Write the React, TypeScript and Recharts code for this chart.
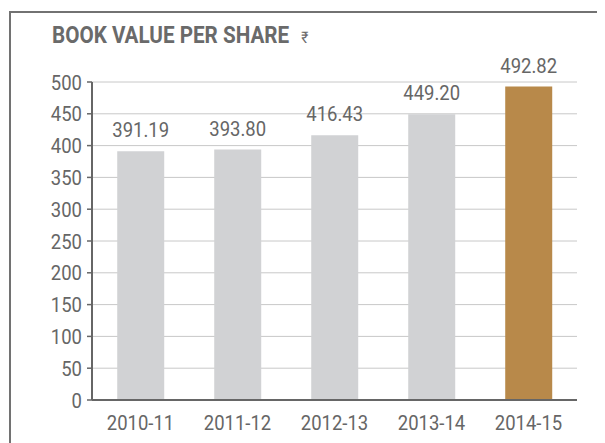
import React from "react";
import { BarChart, Bar, XAxis, YAxis, CartesianGrid, Cell, LabelList } from "recharts";

const years = ["2010-11", "2011-12", "2012-13", "2013-14", "2014-15"];
const bookValues = [391.19, 393.8, 416.43, 449.2, 492.82];
const valueLabels = ["391.19", "393.80", "416.43", "449.20", "492.82"];
const yTicks = [0, 50, 100, 150, 200, 250, 300, 350, 400, 450, 500];
const barColors = ["#d1d2d4", "#d1d2d4", "#d1d2d4", "#d1d2d4", "#b8894a"];

const data = years.map((y, i) => ({ year: y, value: bookValues[i], label: valueLabels[i] }));

const FONT = "Roboto, 'Liberation Sans', sans-serif";
const TEXT = "#666666";
const SX = 0.88;

const ValueLabel = (props: any) => {
  const { x, y, width, value } = props;
  return (
    <g transform={`translate(${x + width / 2},${y - 14}) scale(${SX},1)`}>
      <text x={0} y={0} textAnchor="middle" fill={TEXT} fontSize={21} fontFamily={FONT}>
        {value}
      </text>
    </g>
  );
};

const XTick = (props: any) => {
  const { x, y, payload } = props;
  return (
    <g transform={`translate(${x},${y + 28}) scale(${SX},1)`}>
      <text x={0} y={0} textAnchor="middle" fill={TEXT} fontSize={21} fontFamily={FONT}>
        {payload.value}
      </text>
    </g>
  );
};

const YTick = (props: any) => {
  const { x, y, payload } = props;
  return (
    <g transform={`translate(${x},${y + 7.5}) scale(${SX},1)`}>
      <text x={0} y={0} textAnchor="end" fill={TEXT} fontSize={21} fontFamily={FONT}>
        {payload.value}
      </text>
    </g>
  );
};

export default function App() {
  return (
    <div style={{ position: "relative", width: 597, height: 435, background: "#fff" }}>
      <div
        style={{
          position: "absolute",
          left: 1,
          top: 3,
          right: -8,
          bottom: -8,
          borderTop: "2.5px solid #727272",
          borderLeft: "2.5px solid #727272",
        }}
      />
      <div
        style={{
          position: "absolute",
          left: 44,
          top: 13,
          fontFamily: FONT,
          fontWeight: "bold",
          fontSize: 24,
          color: "#6a6a6a",
          whiteSpace: "nowrap",
          lineHeight: "28px",
          transform: "scaleX(0.86)",
          transformOrigin: "left top",
        }}
      >
        BOOK VALUE PER SHARE
        <span style={{ fontSize: 16, fontWeight: "normal", marginLeft: 14 }}>₹</span>
      </div>
      <div style={{ position: "absolute", left: 0, top: 0 }}>
        <BarChart
          width={589}
          height={427}
          data={data}
          margin={{ top: 74, right: 20, bottom: 0, left: 0 }}
          barCategoryGap="26%"
        >
          <CartesianGrid vertical={false} stroke="#c8c8c8" strokeWidth={1} />
          <XAxis
            dataKey="year"
            height={35}
            tickLine={false}
            axisLine={{ stroke: "#666", strokeWidth: 2 }}
            tick={<XTick />}
            tickSize={0}
            interval={0}
          />
          <YAxis
            width={84}
            domain={[0, 500]}
            ticks={yTicks}
            interval={0}
            tickSize={5}
            tickMargin={5}
            tickLine={{ stroke: "#666", strokeWidth: 1.5 }}
            axisLine={{ stroke: "#666", strokeWidth: 2 }}
            tick={<YTick />}
          />
          <Bar dataKey="value" isAnimationActive={false}>
            {data.map((d, i) => (
              <Cell key={d.year} fill={barColors[i]} />
            ))}
            <LabelList dataKey="label" content={<ValueLabel />} />
          </Bar>
        </BarChart>
      </div>
    </div>
  );
}
